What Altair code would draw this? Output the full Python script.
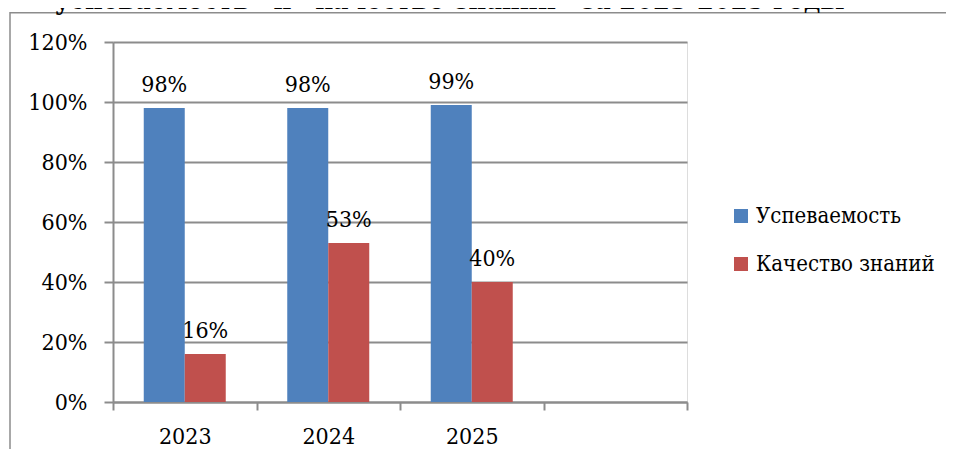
import altair as alt
import pandas as pd

years = ["2023", "2024", "2025"]
x_domain = ["2023", "2024", "2025", ""]
series = ["Успеваемость", "Качество знаний"]
uspev = [0.98, 0.98, 0.99]
kach = [0.16, 0.53, 0.40]
colors = ["#4F81BD", "#C0504D"]
title_text = "«успеваемость» и «качество знаний» за 2023-2025 годы"

rows = []
for i, y in enumerate(years):
    rows.append({"year": y, "series": series[0], "value": uspev[i]})
    rows.append({"year": y, "series": series[1], "value": kach[i]})
df = pd.DataFrame(rows)

FONT = "DejaVu Serif Condensed, DejaVu Serif"
FS = 23
GRID = "#8C8C8C"

x_enc = alt.X("year:N", scale=alt.Scale(domain=x_domain, paddingInner=0, paddingOuter=0),
              axis=alt.Axis(title=None, labelAngle=0, tickBand="extent", grid=False,
                            domainColor=GRID, domainWidth=2, tickColor=GRID, tickWidth=2,
                            tickSize=8, labelFont=FONT, labelFontSize=FS, labelColor="black",
                            labelBaseline="alphabetic", labelPadding=33))
xo_enc = alt.XOffset("series:N", scale=alt.Scale(domain=series, paddingInner=0, paddingOuter=0.75))
y_enc = alt.Y("value:Q", scale=alt.Scale(domain=[0, 1.2], nice=False),
              axis=alt.Axis(title=None, format=".0%", values=[0, 0.2, 0.4, 0.6, 0.8, 1.0, 1.2],
                            grid=True, gridColor=GRID, gridWidth=2, gridOpacity=1,
                            domainColor=GRID, domainWidth=2, tickColor=GRID, tickWidth=2,
                            tickSize=9, labelPadding=17, labelFont=FONT, labelFontSize=FS,
                            labelColor="black"))

bars = alt.Chart(df).mark_bar(size=41).encode(
    x=x_enc,
    xOffset=xo_enc,
    y=y_enc,
    color=alt.Color("series:N", scale=alt.Scale(domain=series, range=colors),
                    legend=alt.Legend(title=None, orient="none", legendX=617, legendY=163,
                                      symbolType="square", symbolSize=196, symbolStrokeWidth=0,
                                      labelFont=FONT, labelFontSize=22, labelColor="black",
                                      labelLimit=400, labelOffset=4, rowPadding=26, padding=0)),
)

labels = alt.Chart(df).mark_text(font=FONT, fontSize=FS, color="black", baseline="alphabetic",
                                 dy=-16).encode(
    x=alt.X("year:N"),
    xOffset=alt.XOffset("series:N"),
    y=alt.Y("value:Q"),
    text=alt.Text("value:Q", format=".0%"),
)

deco = pd.DataFrame({"t": [title_text]})
border = alt.Chart(deco).mark_rect(fill="transparent", stroke=GRID, strokeWidth=1.5).encode(
    x=alt.value(-103), x2=alt.value(900), y=alt.value(-29.3), y2=alt.value(500)
)
title = alt.Chart(deco).mark_text(font=FONT, fontSize=27, fontWeight="bold", color="black",
                                  align="center", baseline="alphabetic").encode(
    x=alt.value(329), y=alt.value(-33), text="t:N"
)

chart = alt.layer(border, bars, labels, title).properties(
    width=574, height=360,
    autosize=alt.AutoSizeParams(type="none"),
    padding={"left": 105, "top": 34, "right": 259, "bottom": 47},
).configure_view(stroke=None).configure(background="white")

chart.save("out.html", embed_options={"renderer": "svg", "actions": False})
